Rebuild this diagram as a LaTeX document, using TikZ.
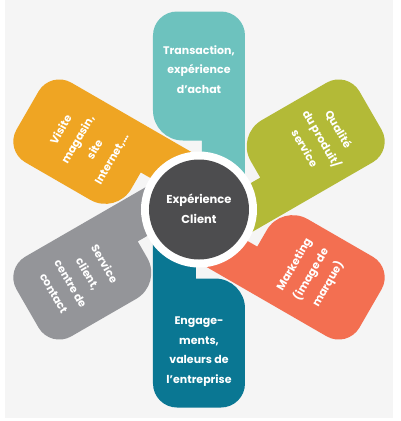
\documentclass[tikz,border=0pt]{standalone}
\usepackage{fontspec}
\setmainfont{Poppins}
\usepackage{tikz}
\definecolor{PBack}{HTML}{F5F5F5}
\definecolor{PTeal}{HTML}{6DC2BE}
\definecolor{PGreen}{HTML}{B3BA37}
\definecolor{PCoral}{HTML}{F36F51}
\definecolor{PPetrol}{HTML}{0A7793}
\definecolor{PGrey}{HTML}{949599}
\definecolor{PAmber}{HTML}{EFA523}
\definecolor{PCore}{HTML}{4D4D4F}

\begin{document}
\begin{tikzpicture}[
  x=1pt,y=1pt,
  petaltext/.style={text=white,align=center,
    font=\bfseries\fontsize{11}{19.5}\selectfont},
  coretext/.style={text=white,align=center,
    font=\bfseries\fontsize{11.5}{20}\selectfont}
]
  \useasboundingbox (-199,-211.5) rectangle (201,209.5);
  \fill[PBack] (-194,-208.5) rectangle (194,209.5);
  % petals: rounded box with a tail on its clockwise half
  \foreach \ang/\col in {90/PTeal,30/PGreen,-30/PCoral,-90/PPetrol,210/PGrey,150/PAmber}{
    \begin{scope}[rotate=\ang-90]
      \fill[\col] (3,0) -- (3,69) -- (-16,69)
        arc[start angle=270,end angle=180,radius=30] -- (-46,174)
        arc[start angle=180,end angle=90,radius=24] -- (22,198)
        arc[start angle=90,end angle=0,radius=24] -- (46,0) -- cycle;
    \end{scope}
  }
  % hub
  \fill[white] (0,0) circle[radius=58];
  \fill[PCore] (0,0) circle[radius=50];
  \node[coretext] (core) at (0,1) {Expérience\\Client};
  % petal labels
  \node[petaltext] (achat) at (90:140) {Transaction,\\expérience\\d’achat};
  \node[petaltext,rotate=-60] (produit) at (30:142) {Qualité\\du produit/\\service};
  \node[petaltext,rotate=60] (marque) at (-30:130) {Marketing\\(image de\\marque)};
  \node[petaltext] (valeurs) at (-90:142) {Engage-\\ments,\\valeurs de\\l’entreprise};
  \node[petaltext,rotate=-60] (contact) at (210:138) {Service\\client,\\centre de\\contact};
  \node[petaltext,rotate=60] (magasin) at (150:130) {Visite\\magasin,\\site\\Internet,…};
\end{tikzpicture}
\end{document}
